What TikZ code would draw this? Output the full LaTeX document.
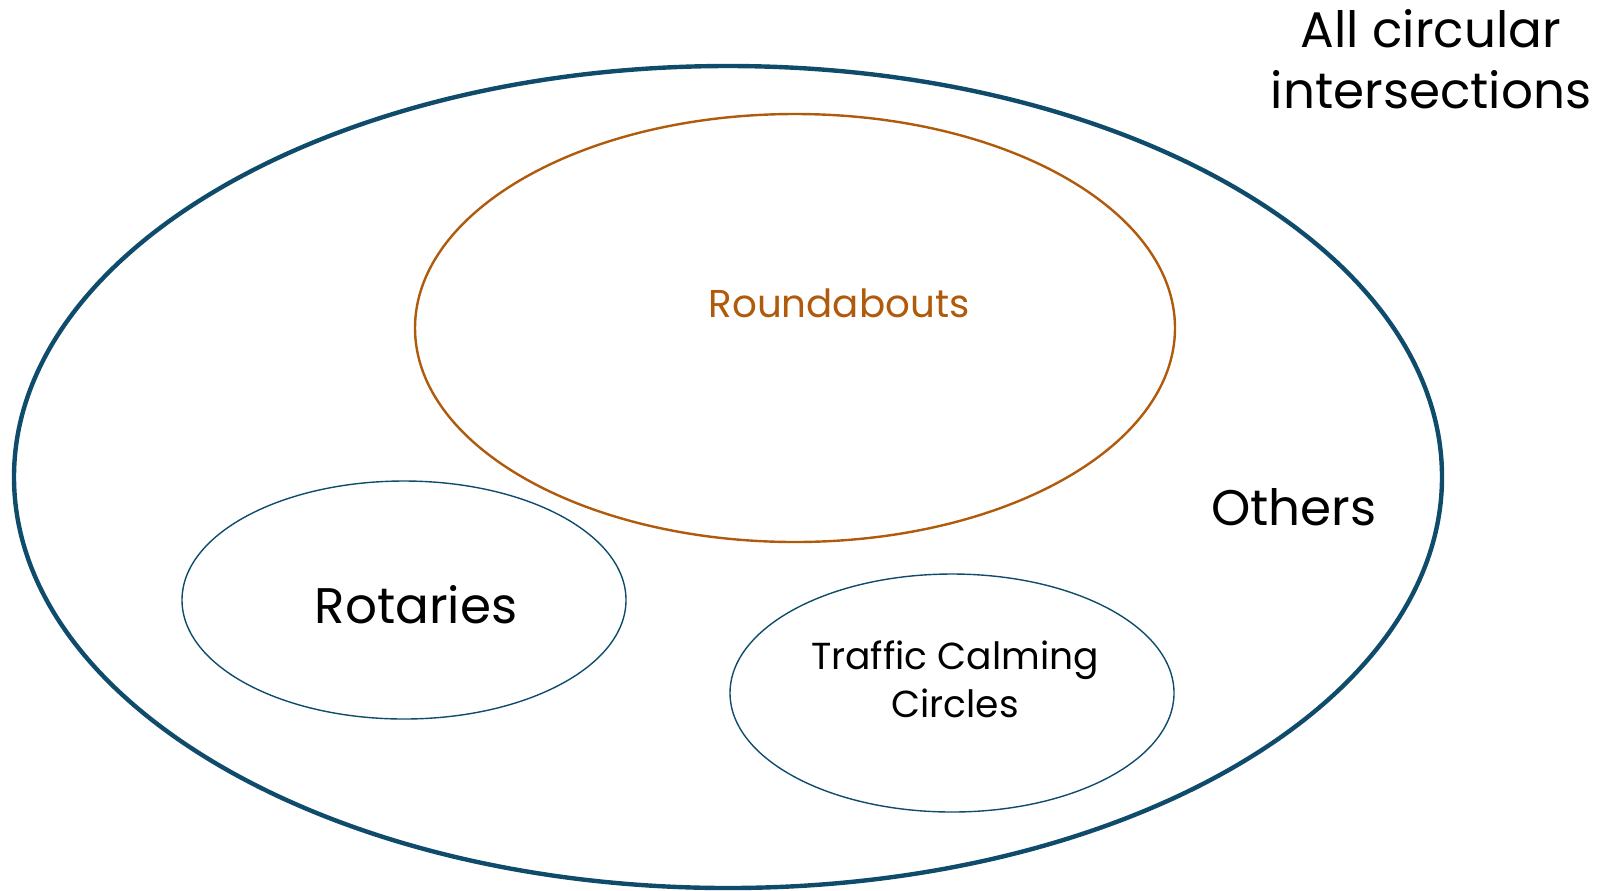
\documentclass[tikz,border=0pt]{standalone}
\usepackage{fontspec}
\setmainfont{Poppins}
\usepackage{tikz}

\definecolor{setblue}{HTML}{0F4C6C}
\definecolor{roundbrown}{HTML}{B05A0C}

\begin{document}
\begin{tikzpicture}[x=0.5pt,y=-0.5pt]
    \useasboundingbox (0,0) rectangle (1604,890);

    \draw[setblue, line width=2.2pt] (728,477) ellipse [x radius=714, y radius=411];
    \draw[roundbrown, line width=1.2pt] (795,328) ellipse [x radius=380, y radius=214];
    \draw[setblue, line width=0.7pt] (404,600) ellipse [x radius=222, y radius=119];
    \draw[setblue, line width=0.7pt] (952,693) ellipse [x radius=222, y radius=119];

    \node [align=center, font=\fontsize{25}{30.5}\selectfont] (all) at (1431,59) {All circular\\intersections};
    \node [anchor=base, text=roundbrown, font=\fontsize{19.4}{24}\selectfont] (round) at (839,317) {Roundabouts};
    \node [anchor=base, font=\fontsize{25}{30}\selectfont] (rot) at (416,623) {Rotaries};
    \node [align=center, font=\fontsize{18.8}{24}\selectfont] (tcc) at (955,679) {Traffic Calming\\Circles};
    \node [anchor=base, font=\fontsize{25}{30}\selectfont] (others) at (1294,525) {Others};
\end{tikzpicture}
\end{document}
